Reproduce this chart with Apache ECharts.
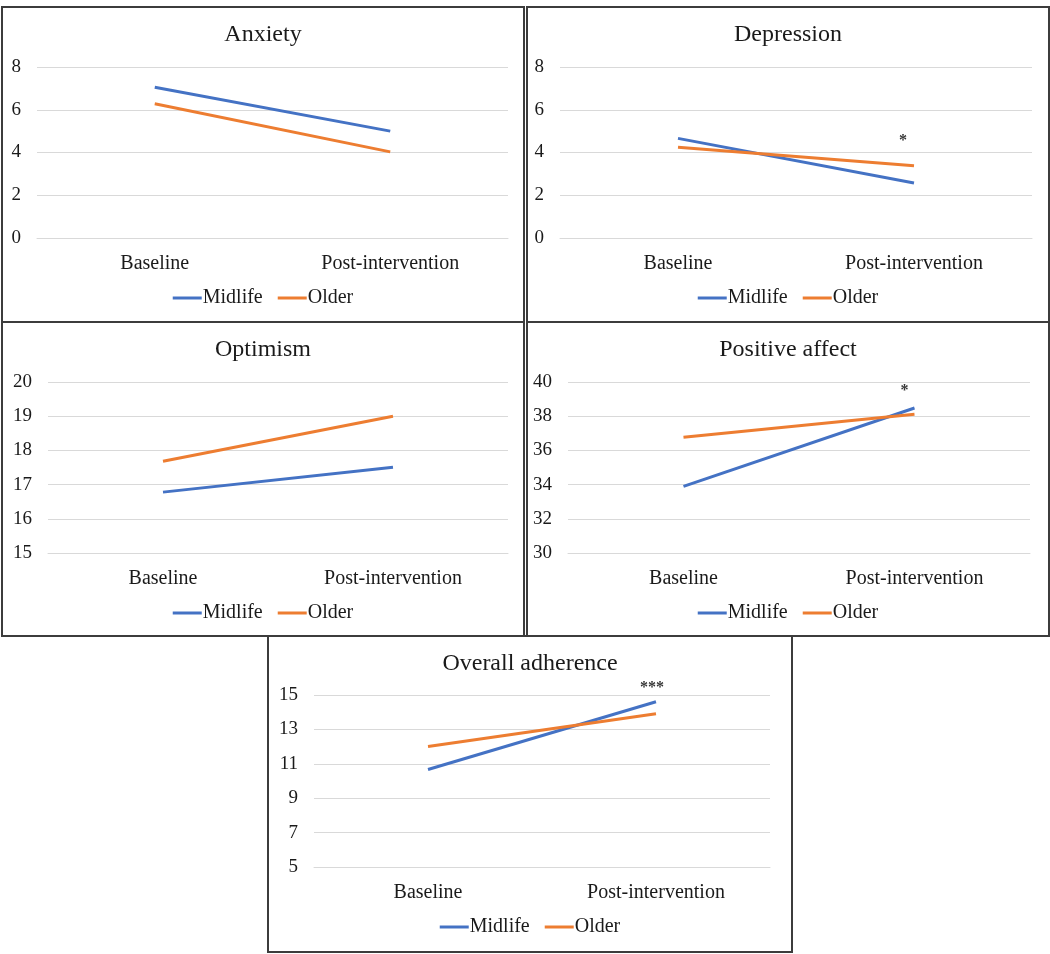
<!DOCTYPE html>
<html>
<head>
<meta charset="utf-8">
<title>Midlife vs older adults</title>
<script src="https://cdn.jsdelivr.net/npm/echarts@6.0.0/dist/echarts.min.js"></script>
<style>
  html, body { margin: 0; padding: 0; background: #fff; }
  body { position: relative; width: 1050px; height: 954px; overflow: hidden; }
  .panel { position: absolute; box-sizing: border-box; border: 2px solid #3c3c3c; }
  .chart { position: absolute; left: -2px; top: -2px; }
</style>
</head>
<body>
<div class="panel" id="pAnxiety" style="left:1px;top:6px;width:524px;height:317px"><div class="chart"></div></div>
<div class="panel" id="pDepression" style="left:526px;top:6px;width:524px;height:317px"><div class="chart"></div></div>
<div class="panel" id="pOptimism" style="left:1px;top:321px;width:524px;height:316px"><div class="chart"></div></div>
<div class="panel" id="pPositive" style="left:526px;top:321px;width:524px;height:316px"><div class="chart"></div></div>
<div class="panel" id="pAdherence" style="left:267px;top:635px;width:526px;height:318px"><div class="chart"></div></div>

<script>
// data
const categories = ['Baseline', 'Post-intervention']
const groups = ['Midlife', 'Older']

const anxietyMidlife = [7.05, 5.0]
const anxietyOlder = [6.28, 4.03]

const depressionMidlife = [4.66, 2.57]
const depressionOlder = [4.25, 3.38]
const depressionStar = ['-', 4.67]

const optimismMidlife = [16.78, 17.51]
const optimismOlder = [17.68, 19.0]

const positiveMidlife = [33.9, 38.48]
const positiveOlder = [36.77, 38.11]
const positiveStar = ['-', 39.67]

const adherenceMidlife = [10.67, 14.61]
const adherenceOlder = [12.01, 13.91]
const adherenceStar = ['-', 15.58]

const BLUE = '#4472C4'
const ORANGE = '#ED7D31'
const FONT = '"Liberation Serif", "Times New Roman", serif'
const TEXT = '#1a1a1a'

function lineSeries(name, data, color) {
  return {
    name: name,
    type: 'line',
    data: data,
    symbol: 'none',
    color: color,
    lineStyle: { width: 3, color: color },
    silent: true,
  }
}

function drawPanel(id, cfg) {
  const panel = document.getElementById(id)
  const box = panel.querySelector('.chart')
  box.style.width = panel.offsetWidth + 'px'
  box.style.height = panel.offsetHeight + 'px'
  const chart = echarts.init(box)

  const series = [
    lineSeries(groups[0], cfg.midlife, BLUE),
    lineSeries(groups[1], cfg.older, ORANGE),
  ]
  // significance marks above the post-intervention point
  if (cfg.star) {
    series.push({
      type: 'scatter',
      data: cfg.star,
      symbolSize: 0,
      silent: true,
      clip: false,
      label: {
        show: true,
        position: 'inside',
        formatter: cfg.starText,
        offset: [cfg.starDx, 3],
        color: '#000',
        fontFamily: FONT,
        fontSize: 16,
        fontWeight: 'bold',
      },
    })
  }

  chart.setOption({
    animation: false,
    title: {
      text: cfg.title,
      left: 'center',
      top: 12,
      textStyle: { fontFamily: FONT, fontSize: 24, fontWeight: 'normal', color: TEXT },
    },
    legend: {
      data: groups,
      left: 'center',
      top: 277,
      icon: 'rect',
      itemWidth: 29,
      itemHeight: 3,
      itemGap: 15,
      textStyle: { fontFamily: FONT, fontSize: 20, color: TEXT, padding: [0, 0, 0, -4] },
    },
    grid: {
      left: cfg.grid[0],
      top: cfg.grid[1],
      width: cfg.grid[2],
      height: cfg.grid[3],
      containLabel: false,
      outerBoundsMode: 'none',
    },
    xAxis: {
      type: 'category',
      data: categories,
      boundaryGap: true,
      axisLine: { show: true, lineStyle: { color: '#d9d9d9', width: 1 } },
      axisTick: { show: false },
      axisLabel: { margin: 16, fontFamily: FONT, fontSize: 20, color: TEXT },
    },
    yAxis: {
      type: 'value',
      min: cfg.min,
      max: cfg.max,
      interval: cfg.step,
      axisLine: { show: false },
      axisTick: { show: false },
      splitLine: { lineStyle: { color: '#d9d9d9', width: 1 } },
      axisLabel: { margin: 16, fontFamily: FONT, fontSize: 19, color: TEXT },
    },
    series: series,
  })
}

drawPanel('pAnxiety', {
  title: 'Anxiety', midlife: anxietyMidlife, older: anxietyOlder,
  min: 0, max: 8, step: 2, grid: [36, 61, 471, 171],
})
drawPanel('pDepression', {
  title: 'Depression', midlife: depressionMidlife, older: depressionOlder,
  min: 0, max: 8, step: 2, grid: [34, 61, 472, 171],
  star: depressionStar, starText: '*', starDx: -11,
})
drawPanel('pOptimism', {
  title: 'Optimism', midlife: optimismMidlife, older: optimismOlder,
  min: 15, max: 20, step: 1, grid: [47, 61, 460, 171],
})
drawPanel('pPositive', {
  title: 'Positive affect', midlife: positiveMidlife, older: positiveOlder,
  min: 30, max: 40, step: 2, grid: [42, 61, 462, 171],
  star: positiveStar, starText: '*', starDx: -10,
})
drawPanel('pAdherence', {
  title: 'Overall adherence', midlife: adherenceMidlife, older: adherenceOlder,
  min: 5, max: 15, step: 2, grid: [47, 60, 456, 172],
  star: adherenceStar, starText: '***', starDx: -4,
})
</script>
</body>
</html>
